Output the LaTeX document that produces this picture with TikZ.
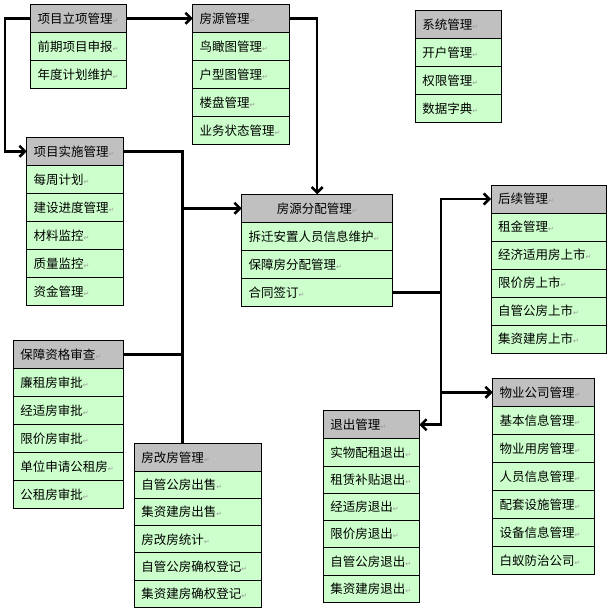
\documentclass[tikz,border=0pt]{standalone}
\usepackage{fontspec}
\setmainfont{Noto Sans CJK SC}
\newfontfamily\markfont{DejaVu Sans}
\usepackage{tikz}
\usetikzlibrary{positioning,arrows.meta}
\definecolor{headgray}{HTML}{C0C0C0}
\definecolor{rowgreen}{HTML}{CCFFCC}
\definecolor{markgray}{HTML}{9A9A9A}
\newcommand{\rt}{{\markfont\fontsize{7}{8}\selectfont\textcolor{markgray}{↵}}}

\begin{document}
\begin{tikzpicture}[x=1pt,y=-1pt,font=\fontsize{12.5}{15}\selectfont,
  >={Straight Barb[length=5.5pt,width=11pt]},
  head/.style={draw,line width=0.9pt,fill=headgray,anchor=north west,outer sep=0pt,
    minimum height=28pt,inner xsep=7pt,text width=#1,align=left},
  cell/.style={draw,line width=0.9pt,fill=rowgreen,outer sep=0pt,
    minimum height=28pt,inner xsep=7pt,text width=#1,align=left},
  link/.style={line width=2.5pt}]
  \useasboundingbox (0,0) rectangle (611,616);

  % project set-up
  \node[head=82pt,alias=lixiang-0] (lixiang) at (30.7,4.3) {项目立项管理\rt};
  \foreach \t [count=\i, evaluate=\i as \j using int(\i-1)] in {前期项目申报,年度计划维护}
    \node[cell=82pt,below=0pt of lixiang-\j] (lixiang-\i) {\t\rt};

  % housing sources
  \node[head=82.6pt,alias=fangyuan-0] (fangyuan) at (192.7,4.3) {房源管理\rt};
  \foreach \t [count=\i, evaluate=\i as \j using int(\i-1)] in {鸟瞰图管理,户型图管理,楼盘管理,业务状态管理}
    \node[cell=82.6pt,below=0pt of fangyuan-\j] (fangyuan-\i) {\t\rt};

  % project execution
  \node[head=82.6pt,alias=shishi-0] (shishi) at (26.7,137.3) {项目实施管理\rt};
  \foreach \t [count=\i, evaluate=\i as \j using int(\i-1)] in {每周计划,建设进度管理,材料监控,质量监控,资金管理}
    \node[cell=82.6pt,below=0pt of shishi-\j] (shishi-\i) {\t\rt};

  % system
  \node[head=72pt,alias=xitong-0] (xitong) at (415.3,10.3) {系统管理\rt};
  \foreach \t [count=\i, evaluate=\i as \j using int(\i-1)] in {开户管理,权限管理,数据字典}
    \node[cell=72pt,below=0pt of xitong-\j] (xitong-\i) {\t\rt};

  % allocation
  \node[head=137pt,align=center,alias=fenpei-0] (fenpei) at (241.7,194.3) {房源分配管理\rt};
  \foreach \t [count=\i, evaluate=\i as \j using int(\i-1)] in {拆迁安置人员信息维护,保障房分配管理,合同签订}
    \node[cell=137pt,below=0pt of fenpei-\j] (fenpei-\i) {\t\rt};

  % follow-up
  \node[head=101.7pt,alias=houxu-0] (houxu) at (491,185) {后续管理\rt};
  \foreach \t [count=\i, evaluate=\i as \j using int(\i-1)] in {租金管理,经济适用房上市,限价房上市,自管公房上市,集资建房上市}
    \node[cell=101.7pt,below=0pt of houxu-\j] (houxu-\i) {\t\rt};

  % property company
  \node[head=88pt,alias=wuye-0] (wuye) at (492.7,378.3) {物业公司管理\rt};
  \foreach \t [count=\i, evaluate=\i as \j using int(\i-1)] in {基本信息管理,物业用房管理,人员信息管理,配套设施管理,设备信息管理,白蚁防治公司}
    \node[cell=88pt,below=0pt of wuye-\j] (wuye-\i) {\t\rt};

  % exit
  \node[head=82pt,alias=tuichu-0] (tuichu) at (323.3,410.7) {退出管理\rt};
  \foreach \t [count=\i, evaluate=\i as \j using int(\i-1)] in {实物配租退出,租赁补贴退出,经适房退出,限价房退出,自管公房退出,集资建房退出}
    \node[cell=82pt,minimum height=27.3pt,below=0pt of tuichu-\j] (tuichu-\i) {\t\rt};

  % eligibility check
  \node[head=96pt,alias=zige-0] (zige) at (13.3,340.7) {保障资格审查\rt};
  \foreach \t [count=\i, evaluate=\i as \j using int(\i-1)] in {廉租房审批,经适房审批,限价房审批,单位申请公租房,公租房审批}
    \node[cell=96pt,below=0pt of zige-\j] (zige-\i) {\t\rt};

  % housing reform
  \node[head=113pt,alias=fanggai-0] (fanggai) at (134.3,443.3) {房改房管理\rt};
  \foreach \t [count=\i, evaluate=\i as \j using int(\i-1)] in {自管公房出售,集资建房出售,房改房统计,自管公房确权登记,集资建房确权登记}
    \node[cell=113pt,minimum height=27.2pt,below=0pt of fanggai-\j] (fanggai-\i) {\t\rt};

  % junctions
  \path (fenpei.west) ++(-59.2,0) coordinate (joinL);
  \path (fenpei-3.east) ++(48.5,0) coordinate (joinR);

  \draw[link,->] (lixiang.east) -- (fangyuan.west);
  \draw[link,->] (lixiang.west) -- ++(-25.7,0) |- (shishi.west);
  \draw[link,->] (fangyuan.east) -| (fenpei.north);
  \draw[link] (shishi.east) -- (shishi.east -| joinL) -- (fanggai.north -| joinL);
  \draw[link] (zige.east) -- (zige.east -| joinL);
  \draw[link,->] (joinL) -- (fenpei.west);
  \draw[link] (fenpei-3.east) -- (joinR);
  \draw[link,->] (joinR) |- (houxu.west);
  \draw[link,->] (joinR) |- (wuye.west);
  \draw[link,->] (joinR) |- (tuichu.east);
\end{tikzpicture}
\end{document}
